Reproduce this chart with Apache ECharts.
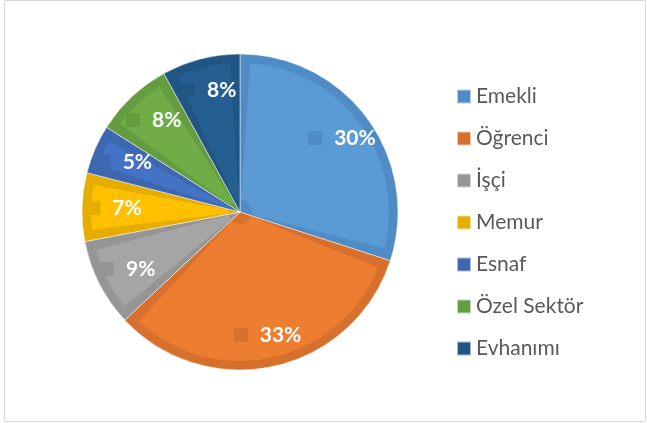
<!DOCTYPE html>
<html>
<head>
<meta charset="utf-8">
<style type="text/css">
html, body { margin: 0; padding: 0; background: #fff; }
#chart { width: 647px; height: 423px; }
</style>
</head>
<body>
<div id="chart"></div>
<script src="https://cdn.jsdelivr.net/npm/echarts@6/dist/echarts.min.js"></script>
<script>

let names = ['Emekli', 'Öğrenci', 'İşçi', 'Memur', 'Esnaf', 'Özel Sektör', 'Evhanımı'];
let values = [30, 33, 9, 7, 5, 8, 8];
let lightColors = ['#5b9bd5', '#ed7d31', '#a5a5a5', '#ffc000', '#4472c4', '#70ad47', '#255e91'];
let darkColors = ['#4f8bc4', '#d6702c', '#959595', '#e6ad00', '#3d67b0', '#649c40', '#215584'];

let chart = echarts.init(document.getElementById('chart'));

let center = [240, 212];
let pad = 1.1;   // inset of the lighter fill, in value units on each side

// lighter fill: each slice split into [gap, fill, gap]
let innerData = [];
names.forEach((n, i) => {
    let gap = {value: pad, itemStyle: {color: 'rgba(0,0,0,0)'}};
    innerData.push(gap);
    innerData.push({name: n + '_fill', value: values[i] - 2 * pad, itemStyle: {color: lightColors[i]}});
    innerData.push(gap);
});

let rich = {
    v: {
        color: '#fff',
        fontFamily: 'Lato',
        fontWeight: 'bold',
        fontSize: 21,
        padding: [0, 0, 0, 12]
    }
};
darkColors.forEach((c, i) => {
    rich['sq' + i] = {width: 14, height: 14, backgroundColor: c};
});

let option = {
    animation: false,
    graphic: [{
        type: 'rect',
        shape: {x: 4.5, y: 0.5, width: 641, height: 421},
        style: {fill: 'none', stroke: '#d9d9d9', lineWidth: 1},
        silent: true
    }],
    legend: {
        orient: 'vertical',
        left: 456,
        top: 85,
        padding: 0,
        itemWidth: 14,
        itemHeight: 14,
        itemGap: 19,
        icon: 'rect',
        data: names,
        textStyle: {
            color: '#595959',
            fontFamily: 'Lato',
            fontSize: 21,
            lineHeight: 23,
            padding: [0, 0, 0, 0]
        }
    },
    series: [
        {
            // outer darker sectors (border look)
            type: 'pie',
            center: center,
            radius: 158,
            startAngle: 90,
            label: {show: false},
            labelLine: {show: false},
            itemStyle: {borderColor: 'rgba(255,255,255,0.6)', borderWidth: 0.8},
            emphasis: {disabled: true},
            data: names.map((n, i) => ({name: n, value: values[i], itemStyle: {color: darkColors[i]}}))
        },
        {
            // lighter inner fill
            type: 'pie',
            center: center,
            radius: [12, 149],
            startAngle: 90,
            silent: true,
            avoidLabelOverlap: false,
            label: {show: false},
            labelLine: {show: false},
            emphasis: {disabled: true},
            data: innerData
        },
        {
            // labels only
            type: 'pie',
            center: center,
            radius: [88, 158],
            startAngle: 90,
            silent: true,
            itemStyle: {color: 'rgba(0,0,0,0)'},
            labelLine: {show: false},
            emphasis: {disabled: true},
            label: {
                show: true,
                position: 'inside',
                formatter: (p) => '{sq' + p.dataIndex + '|}{v|' + p.value + '%}',
                rich: rich
            },
            data: names.map((n, i) => ({name: n, value: values[i]}))
        }
    ]
};

chart.setOption(option);

</script>
</body>
</html>
